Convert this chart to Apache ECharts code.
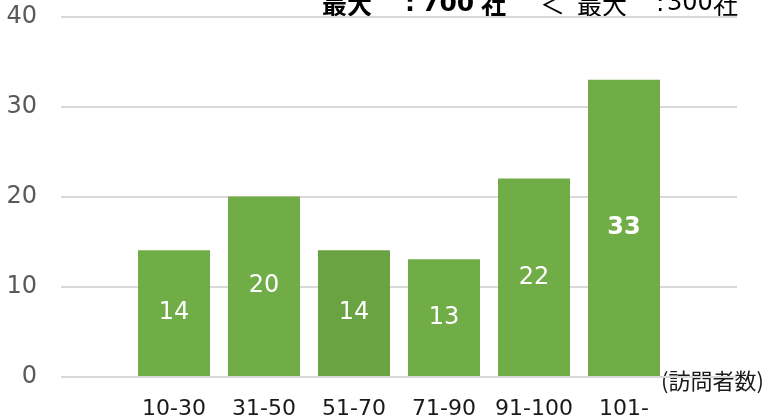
<!DOCTYPE html>
<html>
<head>
<meta charset="utf-8">
<script src="https://cdn.jsdelivr.net/npm/echarts@6/dist/echarts.min.js"></script>
<style>
  html, body { margin: 0; padding: 0; background: #fff; }
  #chart { width: 770px; height: 420px; }
</style>
</head>
<body>
<div id="chart"></div>
<script>
  // 訪問者数の区分
  var categories = ['10-30', '31-50', '51-70', '71-90', '91-100', '101-'];
  // 社数
  var values = [14, 20, 14, 13, 22, 33];
  var yTicks = [0, 10, 20, 30, 40];

  var cjk = '"Noto Sans CJK JP", sans-serif';
  var num = '"DejaVu Sans", "Noto Sans CJK JP", sans-serif';
  var green = '#70ad47';

  var myChart = echarts.init(document.getElementById('chart'));

  var barData = values.map(function (v, i) {
    var item = { value: v };
    if (i === 2) item.itemStyle = { color: '#6aa442' };
    if (i === values.length - 1) item.label = { fontWeight: 'bold' };
    return item;
  });

  function txt(x, y, s, size, bold, family) {
    return {
      type: 'text', left: x, top: y,
      style: { text: s, fontSize: size, fontWeight: bold ? 'bold' : 'normal', fill: '#000', fontFamily: family }
    };
  }

  var option = {
    animation: false,
    grid: [
      { left: 61, right: 33, top: 17, bottom: 43 },
      { left: 129, width: 540, top: 17, bottom: 43 }
    ],
    xAxis: [
      { gridIndex: 0, type: 'value', show: false, min: 0, max: 1 },
      {
        gridIndex: 1,
        type: 'category',
        data: categories,
        axisLine: { show: false },
        axisTick: { show: false },
        axisLabel: { interval: 0, color: '#1a1a1a', fontSize: 22, fontFamily: num, margin: 22 }
      }
    ],
    yAxis: [
      {
        gridIndex: 0,
        type: 'value',
        min: yTicks[0],
        max: yTicks[yTicks.length - 1],
        interval: 10,
        axisLine: { show: false },
        axisTick: { show: false },
        axisLabel: { color: '#595959', fontSize: 24, fontFamily: num, margin: 24 },
        splitLine: { lineStyle: { color: '#d9d9d9', width: 2 } }
      },
      {
        gridIndex: 1,
        type: 'value',
        min: yTicks[0],
        max: yTicks[yTicks.length - 1],
        show: false,
        splitLine: { show: false }
      }
    ],
    series: [
      {
        type: 'bar',
        xAxisIndex: 1,
        yAxisIndex: 1,
        barWidth: 72,
        itemStyle: { color: green },
        label: {
          show: true,
          position: 'inside',
          color: '#fff',
          fontSize: 24,
          fontFamily: num
        },
        data: barData
      }
    ],
    graphic: [
      txt(322, -8, '最大', 25, true, cjk),
      txt(405, -8, ':', 25, true, num),
      txt(422, -8, '700', 25, true, num),
      txt(481, -8, '社', 25, true, cjk),
      txt(540, -8, '＜', 25, false, cjk),
      txt(577, -8, '最大', 25, false, cjk),
      txt(656, -8, ':', 25, false, num),
      txt(667, -8, '300', 24, false, num),
      txt(713, -8, '社', 25, false, cjk),
      {
        type: 'text',
        left: 661,
        top: 370,
        style: { text: '(訪問者数)', fontSize: 22, fill: '#1a1a1a', fontFamily: cjk }
      }
    ]
  };

  myChart.setOption(option);
</script>
</body>
</html>
